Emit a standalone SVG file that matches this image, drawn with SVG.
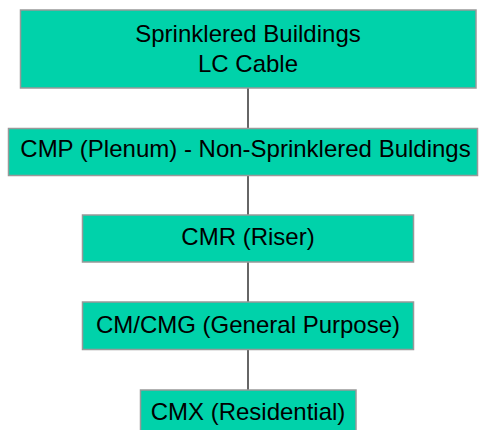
<svg xmlns="http://www.w3.org/2000/svg" width="479" height="430" viewBox="0 0 479 430">
<style>
.box{fill:#00D2AA;stroke:#999999;stroke-width:1.5}
.t{font-family:"Liberation Sans",Arial,sans-serif;font-size:24px;fill:#000;text-anchor:middle}
.c{stroke:#333;stroke-width:1.5;fill:none}
</style>
<rect width="479" height="430" fill="#fff"/>
<g id="connectors">
<line class="c" x1="248" y1="88" x2="248" y2="128"/>
<line class="c" x1="248" y1="175" x2="248" y2="215"/>
<line class="c" x1="248" y1="262" x2="248" y2="302"/>
<line class="c" x1="248" y1="350" x2="248" y2="390"/>
</g>
<g id="n1"><rect class="box" x="20.5" y="10" width="455.5" height="78"/><text class="t" x="248" y="42">Sprinklered Buildings</text><text class="t" x="248" y="72">LC Cable</text></g>
<g id="n2"><rect class="box" x="8.5" y="128.5" width="469" height="47"/><text class="t" x="245.5" y="157">CMP (Plenum) - Non-Sprinklered Buldings</text></g>
<g id="n3"><rect class="box" x="82.5" y="215" width="331" height="47"/><text class="t" x="248" y="245">CMR (Riser)</text></g>
<g id="n4"><rect class="box" x="82.5" y="302" width="331" height="47.5"/><text class="t" x="248" y="333">CM/CMG (General Purpose)</text></g>
<g id="n5"><rect class="box" x="140.5" y="390" width="215.5" height="50"/><text class="t" x="248" y="420">CMX (Residential)</text></g>
</svg>
